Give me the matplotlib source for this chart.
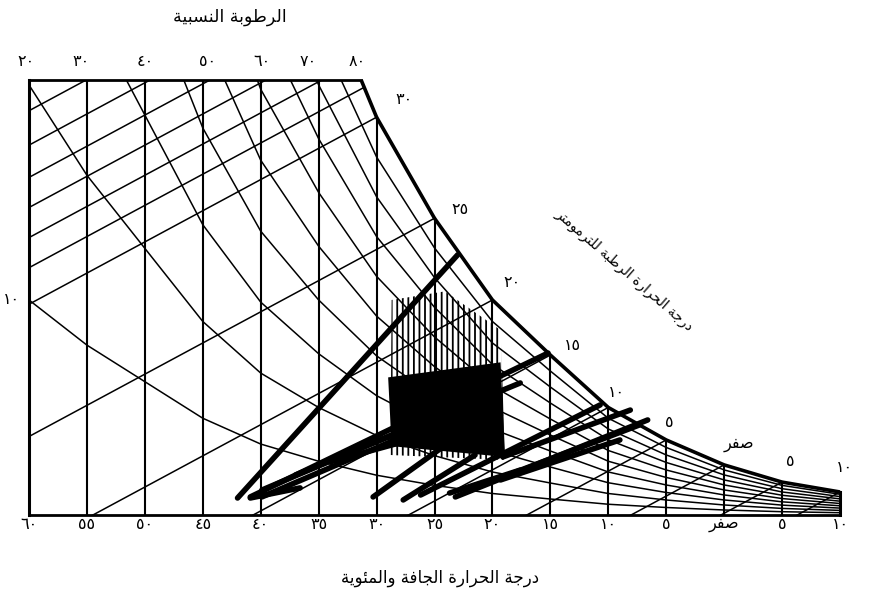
import matplotlib
matplotlib.use('Agg')
import matplotlib.pyplot as plt
from matplotlib.patches import Polygon
import numpy as np

##########################
# saturation curve (dry bulb degC, vapour scale units)
sat_t = np.array([-10, -5, 0, 5, 10, 15, 20, 25, 30, 35, 40, 45, 50, 55, 60])
sat_u = np.array([1.07, 1.53, 2.33, 3.49, 5.0, 7.44, 10.0, 13.8, 18.5, 25.0, 33.0, 45.0, 62.0, 79.0, 100.0])
top_u = 20.23

rh_levels = [10, 20, 30, 40, 50, 60, 70, 80, 90]
vert_t = [55, 50, 45, 40, 35, 30, 25, 20, 15, 10, 5, 0, -5]

# wet bulb lines: labelled ones end on the curve, the upper ones are given by their value at 60 degC
wb_t = [30, 25, 20, 15, 10, 5, 0, -5, -10]
wb_upper_u60 = [11.5, 12.9, 14.3, 15.7, 17.2, 18.8]
wb_slope = 0.29

# climate lines (heavy strokes): T1, u1, T2, u2
clim_t1 = [42.0, 40.9, 39.9, 39.9, 37.0, 34.0, 40.9, 30.3, 27.7, 23.7, 26.2, 23.2, 19.3, 19.1, 19.1]
clim_u1 = [0.79, 0.84, 1.16, 0.84, 1.86, 2.47, 0.79, 0.84, 0.70, 1.02, 0.93, 0.84, 1.63, 2.70, 1.77]
clim_t2 = [23.0, 15.2, 21.2, 19.35, 17.6, 19.3, 36.6, 24.3, 21.5, 17.6, 10.7, 6.6, 9.0, 8.1, 7.3]
clim_u2 = [12.1, 7.53, 5.44, 5.58, 6.14, 4.65, 1.26, 3.16, 2.79, 2.09, 5.12, 4.42, 3.49, 4.88, 4.19]

# comfort zone outlines
zone_t = [28.7, 24.1, 19.3, 18.9, 28.8]
zone_u = [10.0, 10.4, 8.6, 2.56, 2.79]
core_t = [29.0, 19.3, 18.9, 28.7]
core_u = [6.4, 7.1, 2.7, 3.2]

# labels
x_ticks = [60, 55, 50, 45, 40, 35, 30, 25, 20, 15, 10, 5, 0, -5, -10]
x_labels = ['٦٠', '٥٥', '٥٠', '٤٥', '٤٠', '٣٥', '٣٠', '٢٥', '٢٠', '١٥', '١٠', '٥', 'صفر', '٥', '١٠']
rh_lab_t = [60.3, 55.5, 50.0, 44.6, 39.9, 35.9, 31.7]
rh_labels = ['٢٠', '٣٠', '٤٠', '٥٠', '٦٠', '٧٠', '٨٠']
wb_lab_t = [27.6, 22.8, 18.3, 13.1, 9.3, 4.7, -1.3, -5.7, -10.4]
wb_lab_u = [19.3, 14.2, 10.8, 7.9, 5.7, 4.3, 3.3, 2.5, 2.2]
wb_labels = ['٣٠', '٢٥', '٢٠', '١٥', '١٠', '٥', 'صفر', '٥', '١٠']
##########################

# minimal arabic shaping (matplotlib has no bidi / joining)
FORMS = {
    'ا': ('\uFE8D', '\uFE8E', None, None),
    'ب': ('\uFE8F', '\uFE90', '\uFE91', '\uFE92'),
    'ة': ('\uFE93', '\uFE94', None, None),
    'ت': ('\uFE95', '\uFE96', '\uFE97', '\uFE98'),
    'ج': ('\uFE9D', '\uFE9E', '\uFE9F', '\uFEA0'),
    'ح': ('\uFEA1', '\uFEA2', '\uFEA3', '\uFEA4'),
    'د': ('\uFEA9', '\uFEAA', None, None),
    'ر': ('\uFEAD', '\uFEAE', None, None),
    'س': ('\uFEB1', '\uFEB2', '\uFEB3', '\uFEB4'),
    'ص': ('\uFEB9', '\uFEBA', '\uFEBB', '\uFEBC'),
    'ط': ('\uFEC1', '\uFEC2', '\uFEC3', '\uFEC4'),
    'ف': ('\uFED1', '\uFED2', '\uFED3', '\uFED4'),
    'ل': ('\uFEDD', '\uFEDE', '\uFEDF', '\uFEE0'),
    'م': ('\uFEE1', '\uFEE2', '\uFEE3', '\uFEE4'),
    'ن': ('\uFEE5', '\uFEE6', '\uFEE7', '\uFEE8'),
    'و': ('\uFEED', '\uFEEE', None, None),
    'ي': ('\uFEF1', '\uFEF2', '\uFEF3', '\uFEF4'),
    'ئ': ('\uFE89', '\uFE8A', '\uFE8B', '\uFE8C'),
}


def ar(s):
    out = []
    for i, c in enumerate(s):
        if c not in FORMS:
            out.append(c)
            continue
        prev = s[i-1] if i > 0 else None
        nxt = s[i+1] if i + 1 < len(s) else None
        jp = prev in FORMS and FORMS[prev][2] is not None
        jn = nxt in FORMS and FORMS[c][2] is not None
        iso, fin, ini, med = FORMS[c]
        if jp and jn:
            out.append(med)
        elif jp:
            out.append(fin)
        elif jn:
            out.append(ini)
        else:
            out.append(iso)
    return ''.join(reversed(out))


plt.rcParams['font.family'] = ['DejaVu Sans']
plt.rcParams['hatch.linewidth'] = 1.3

fig = plt.figure(figsize=(8.69, 5.93), dpi=100)
ax = fig.add_axes([29/869, 78/593, 811/869, 435/593])
ax.set_xlim(60, -10)
ax.set_ylim(0, top_u)
ax.axis('off')

# chart outline
t_top = np.interp(top_u, sat_u, sat_t)
low = sat_t <= 30
curve_t = np.concatenate(([t_top], sat_t[low][::-1]))
curve_u = np.concatenate(([top_u], sat_u[low][::-1]))
region = np.vstack([[60, 0], [60, top_u]] + [[a, b] for a, b in zip(curve_t, curve_u)] + [[-10, 0]])
clip = Polygon(region, closed=True, transform=ax.transData, facecolor='none', edgecolor='none')
ax.add_patch(clip)

ax.plot(curve_t, curve_u, color='k', lw=2.6, solid_capstyle='butt', clip_on=False)
ax.plot([60, t_top], [top_u, top_u], color='k', lw=2.0, clip_on=False)
ax.plot([60, 60], [0, top_u], color='k', lw=2.2, clip_on=False)
ax.plot([60, -10], [0, 0], color='k', lw=2.0, clip_on=False)
ax.plot([-10, -10], [0, sat_u[0]], color='k', lw=2.2, clip_on=False)

# dry bulb verticals
for t in vert_t:
    h = min(np.interp(t, sat_t, sat_u), top_u)
    ax.plot([t, t], [0, h], color='k', lw=1.5)

# relative humidity curves
for rh in rh_levels:
    ln, = ax.plot(sat_t, sat_u * rh / 100.0, color='k', lw=1.1)
    ln.set_clip_path(clip)

# wet bulb lines
tt = np.array([60.0, -10.0])
for u60 in wb_upper_u60:
    ln, = ax.plot(tt, u60 + wb_slope * (60 - tt), color='k', lw=1.1)
    ln.set_clip_path(clip)
for tw in wb_t:
    uw = np.interp(tw, sat_t, sat_u)
    t2 = np.array([60.0, tw])
    ln, = ax.plot(t2, uw - wb_slope * (t2 - tw), color='k', lw=1.1)
    ln.set_clip_path(clip)

# comfort zone hatching
zone = Polygon(np.column_stack([zone_t, zone_u]), closed=True, facecolor='none',
               edgecolor='k', hatch='|||', lw=0)
ax.add_patch(zone)
core = Polygon(np.column_stack([core_t, core_u]), closed=True, facecolor='k',
               edgecolor='none', lw=0)
ax.add_patch(core)

# heavy climate lines
for a, b, c, d in zip(clim_t1, clim_u1, clim_t2, clim_u2):
    ax.plot([a, c], [b, d], color='k', lw=4.0, solid_capstyle='round')

# texts
for t, s in zip(x_ticks, x_labels):
    lab = ar(s) if s == 'صفر' else s
    ax.text(t, -0.45, lab, ha='center', va='center', fontsize=11.5)
for t, s in zip(rh_lab_t, rh_labels):
    ax.text(t, 21.07, s, ha='center', va='center', fontsize=11.5)
ax.text(61.5, 10.0, '١٠', ha='center', va='center', fontsize=11.5)
for t, u, s in zip(wb_lab_t, wb_lab_u, wb_labels):
    lab = ar(s) if s == 'صفر' else s
    ax.text(t, u, lab, ha='center', va='center', fontsize=11.5)

ax.text(8.6, 11.4, ar('درجة الحرارة الرطبة للترمومتر'), ha='center', va='center',
        rotation=-41, rotation_mode='anchor', fontsize=10)
fig.text(0.265, 0.972, ar('الرطوبة النسبية'), ha='center', va='center', fontsize=12.5)
fig.text(0.506, 0.025, ar('درجة الحرارة الجافة والمئوية'), ha='center', va='center', fontsize=12)

fig.savefig('out.png', dpi=100, facecolor='white')
